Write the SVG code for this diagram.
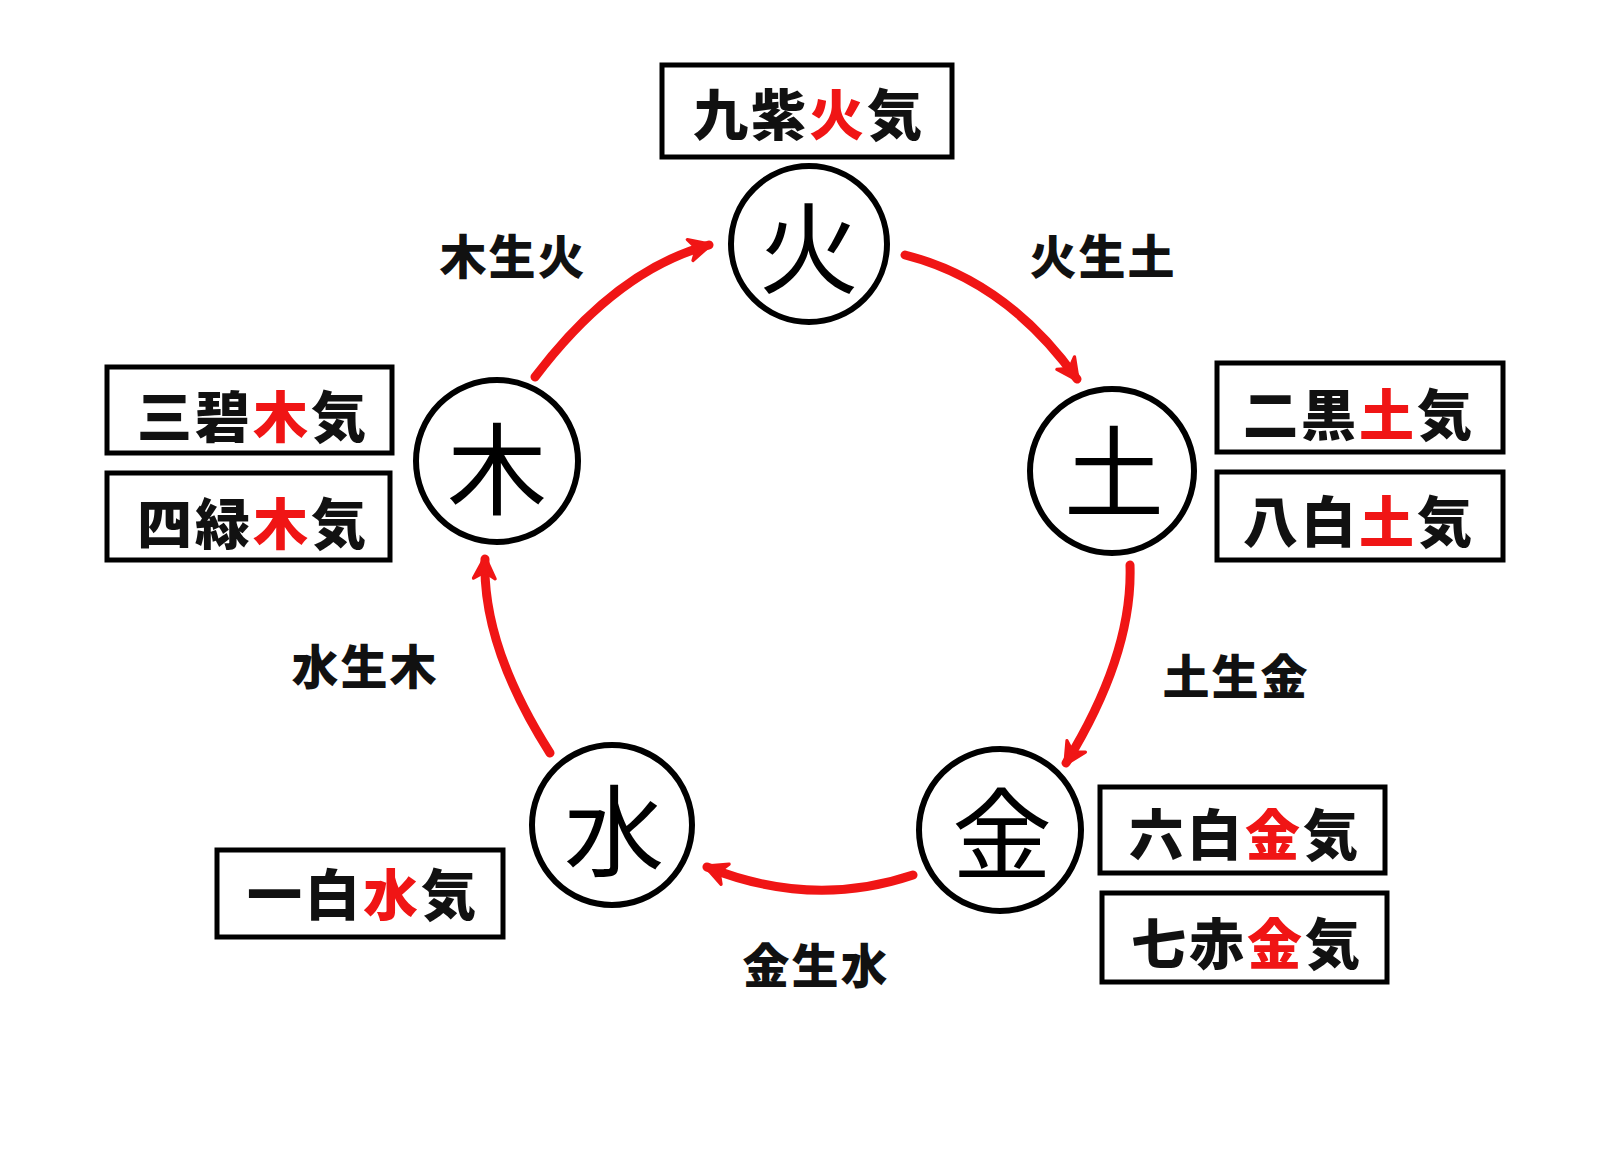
<svg xmlns="http://www.w3.org/2000/svg" width="1600" height="1162" viewBox="0 0 1600 1162">
<style>
.circ{fill:#fff;stroke:#000;stroke-width:6}
.box{fill:#fff;stroke:#000;stroke-width:5}
.big{font-family:"Noto Sans CJK JP","Noto Sans CJK SC",sans-serif;font-size:100px;font-weight:400;text-anchor:middle;dominant-baseline:central;fill:#000}
.bt{font-family:"Noto Sans CJK JP","Noto Sans CJK SC",sans-serif;font-size:55px;font-weight:900;text-anchor:middle;dominant-baseline:central;fill:#111;letter-spacing:3px}
.lab{font-family:"Noto Sans CJK JP","Noto Sans CJK SC",sans-serif;font-size:47px;font-weight:900;text-anchor:middle;dominant-baseline:central;fill:#111;letter-spacing:2px}
.r{fill:#f01515}
.arr{fill:none;stroke:#f01515;stroke-width:9;stroke-linecap:round;marker-end:url(#ah)}
</style>
<defs>
<marker id="ah" markerUnits="userSpaceOnUse" viewBox="0 0 24 24" refX="20" refY="12" markerWidth="26" markerHeight="26" orient="auto">
<path d="M2,2 L22,12 L2,22 L8,12 Z" fill="#f01515" stroke="#f01515" stroke-width="3" stroke-linejoin="round"/>
</marker>
</defs>
<rect width="1600" height="1162" fill="#fff"/>
<g id="connectors">
<path class="arr" d="M535,377 Q616,270 709,245"/>
<path class="arr" d="M905,255 Q1007,281 1077,379"/>
<path class="arr" d="M1130,565 Q1133,654 1066,763"/>
<path class="arr" d="M913,875 Q812,909 707,867"/>
<path class="arr" d="M550,753 Q482,646 485,559"/>
<text class="lab" x="513" y="253">木生火</text>
<text class="lab" x="1103" y="253">火生土</text>
<text class="lab" x="1236" y="673">土生金</text>
<text class="lab" x="365" y="663">水生木</text>
<text class="lab" x="816" y="962">金生水</text>
</g>
<g id="node-fire">
<circle class="circ" cx="809" cy="244" r="78"/>
<text class="big" x="809" y="242">火</text>
</g>
<g id="node-wood">
<circle class="circ" cx="497" cy="461" r="81"/>
<text class="big" x="497" y="463">木</text>
</g>
<g id="node-earth">
<circle class="circ" cx="1112" cy="471" r="82"/>
<text class="big" x="1114" y="466">土</text>
</g>
<g id="node-water">
<circle class="circ" cx="612" cy="825" r="80"/>
<text class="big" x="614" y="825">水</text>
</g>
<g id="node-metal">
<circle class="circ" cx="1000" cy="830" r="81"/>
<text class="big" x="1002" y="828">金</text>
</g>
<g id="box-9">
<rect class="box" x="662" y="65" width="290" height="92"/>
<text class="bt" x="809" y="111">九紫<tspan class="r">火</tspan>気</text>
</g>
<g id="box-3">
<rect class="box" x="107" y="367" width="285" height="86"/>
<text class="bt" x="253" y="413">三碧<tspan class="r">木</tspan>気</text>
</g>
<g id="box-4">
<rect class="box" x="107" y="473" width="283" height="87"/>
<text class="bt" x="253" y="520">四緑<tspan class="r">木</tspan>気</text>
</g>
<g id="box-2">
<rect class="box" x="1217" y="363" width="286" height="89"/>
<text class="bt" x="1359" y="411">二黒<tspan class="r">土</tspan>気</text>
</g>
<g id="box-8">
<rect class="box" x="1217" y="472" width="286" height="88"/>
<text class="bt" x="1359" y="518">八白<tspan class="r">土</tspan>気</text>
</g>
<g id="box-1">
<rect class="box" x="217" y="850" width="286" height="87"/>
<text class="bt" x="363" y="891">一白<tspan class="r">水</tspan>気</text>
</g>
<g id="box-6">
<rect class="box" x="1100" y="787" width="285" height="86"/>
<text class="bt" x="1245" y="831">六白<tspan class="r">金</tspan>気</text>
</g>
<g id="box-7">
<rect class="box" x="1102" y="893" width="285" height="89"/>
<text class="bt" x="1247" y="940">七赤<tspan class="r">金</tspan>気</text>
</g>
</svg>
